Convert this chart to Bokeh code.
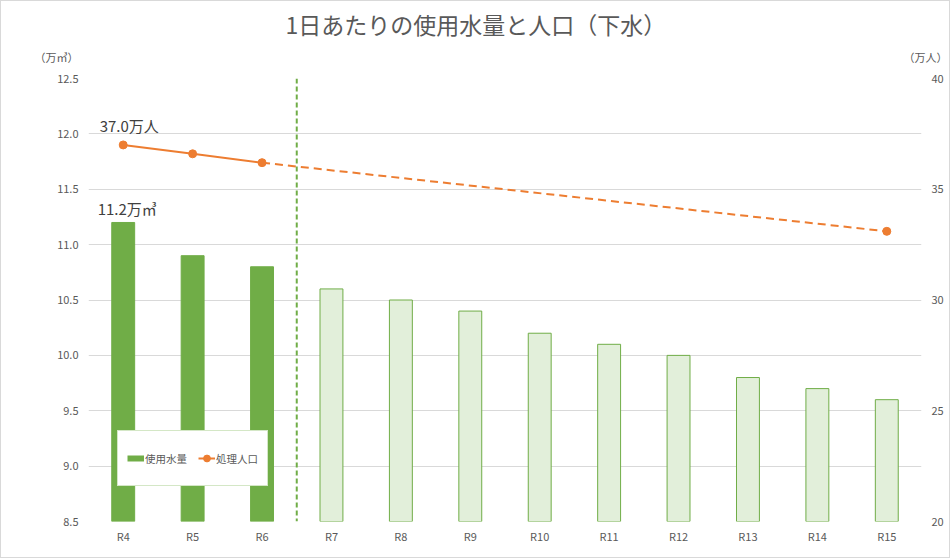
from bokeh.plotting import figure
from bokeh.models import Range1d, LinearAxis, Span, Legend, LegendItem, FixedTicker, Title
from bokeh.core.properties import value
from bokeh.embed import file_html
from bokeh.resources import INLINE

categories = ["R4", "R5", "R6", "R7", "R8", "R9", "R10", "R11", "R12", "R13", "R14", "R15"]
past_years = ["R4", "R5", "R6"]
future_years = ["R7", "R8", "R9", "R10", "R11", "R12", "R13", "R14", "R15"]
water_past = [11.2, 10.9, 10.8]
water_future = [10.6, 10.5, 10.4, 10.2, 10.1, 10.0, 9.8, 9.7, 9.6]
pop_years = ["R4", "R5", "R6"]
pop_values = [37.0, 36.6, 36.2]
pop_proj_years = ["R6", "R15"]
pop_proj_values = [36.2, 33.1]
left_ticks = [8.5, 9.0, 9.5, 10.0, 10.5, 11.0, 11.5, 12.0, 12.5]
right_ticks = [20, 25, 30, 35, 40]
title_text = "1日あたりの使用水量と人口（下水）"
left_unit = "（万㎥）"
right_unit = "（万人）"

FONT = "Noto Sans CJK JP"
GREEN = "#70AD47"
LIGHT = "#E2EFDA"
ORANGE = "#ED7D31"
GRAY = "#595959"

p = figure(width=950, height=558, x_range=categories, y_range=Range1d(8.5, 12.5),
           output_backend="svg", toolbar_location=None, title_location=None,
           min_border_left=87, min_border_right=30, min_border_top=0, min_border_bottom=38)
p.styles = {"border": "1px solid #D9D9D9"}

# rows above the plot, added from the plot outward
spacer = Title(text="\u3000", text_font=FONT, text_font_size="2px", standoff=5.5)
p.add_layout(spacer, "above")
units = Title(text=left_unit + "\u3000" * 76 + right_unit, align="left", offset=-54,
              text_font=FONT, text_font_size="11px", text_font_style="normal",
              text_color=GRAY, standoff=6.5)
p.add_layout(units, "above")
main_title = Title(text=title_text, align="left", offset=197, text_font=FONT,
                   text_font_size="23px", text_font_style="normal", text_color=GRAY,
                   standoff=6)
p.add_layout(main_title, "above")

p.outline_line_color = None
p.xgrid.grid_line_color = None
p.ygrid.grid_line_color = "#D9D9D9"
p.ygrid.ticker = FixedTicker(ticks=left_ticks)

p.extra_y_ranges = {"pop": Range1d(20, 40)}

def style_axis(a, standoff):
    a.axis_line_color = None
    a.major_tick_line_color = None
    a.minor_tick_line_color = None
    a.major_tick_out = 0
    a.major_tick_in = 0
    a.major_label_text_font = FONT
    a.major_label_text_font_size = "11px"
    a.major_label_text_color = GRAY
    a.major_label_standoff = standoff

style_axis(p.xaxis[0], 6)

ay = p.yaxis[0]
ay.ticker = FixedTicker(ticks=left_ticks)
ay.major_label_overrides = {t: f"{t:.1f}" for t in left_ticks}
style_axis(ay, 10)

ry = LinearAxis(y_range_name="pop", ticker=FixedTicker(ticks=right_ticks))
style_axis(ry, 10)
p.add_layout(ry, "right")

bars_past = p.vbar(x=past_years, top=water_past, bottom=8.5, width=0.33,
                   fill_color=GREEN, line_color=GREEN)
bars_future = p.vbar(x=future_years, top=water_future, bottom=8.5, width=0.33,
                     fill_color=LIGHT, line_color=GREEN, line_width=1)
# legend key proxy for the bar series (a single point draws nothing on the plot)
bar_key = p.line(x=past_years[:1], y=water_past[:1], line_color=GREEN, line_width=6,
                 line_cap="butt")

p.add_layout(Span(location=3, dimension="height", line_color=GREEN,
                  line_dash="5 3", line_width=2))

line = p.line(pop_years, pop_values, y_range_name="pop", line_color=ORANGE, line_width=2)
p.line(pop_proj_years, pop_proj_values, y_range_name="pop", line_color=ORANGE,
       line_width=2, line_dash="8 5")
dots = p.scatter(pop_years, pop_values, y_range_name="pop", size=8,
                 fill_color=ORANGE, line_color=ORANGE)
p.scatter(pop_proj_years[-1:], pop_proj_values[-1:], y_range_name="pop", size=8,
          fill_color=ORANGE, line_color=ORANGE)

p.text(x=[pop_years[0]], y=[pop_values[0]], text=[f"{pop_values[0]:.1f}万人"],
       y_range_name="pop", text_font=value(FONT), text_font_size="15px",
       text_color="#404040", text_align="center", text_baseline="bottom", x_offset=6, y_offset=-9)
p.text(x=[past_years[0]], y=[water_past[0]], text=[f"{water_past[0]:.1f}万㎥"],
       text_font=value(FONT), text_font_size="15px",
       text_color="#404040", text_align="center", text_baseline="bottom", x_offset=4, y_offset=-3)

legend = Legend(items=[LegendItem(label="使用水量", renderers=[bar_key]),
                       LegendItem(label="処理人口", renderers=[line, dots])],
                orientation="horizontal", location=(29, 35),
                label_text_font=FONT, label_text_font_size="10.5px", label_text_color=GRAY,
                border_line_color="#A9D08E", background_fill_alpha=1,
                padding=9, spacing=11, glyph_width=17, glyph_height=36, label_height=36,
                label_standoff=1, margin=0)
p.add_layout(legend, "center")

open("out.html", "w").write(file_html(p, INLINE))
